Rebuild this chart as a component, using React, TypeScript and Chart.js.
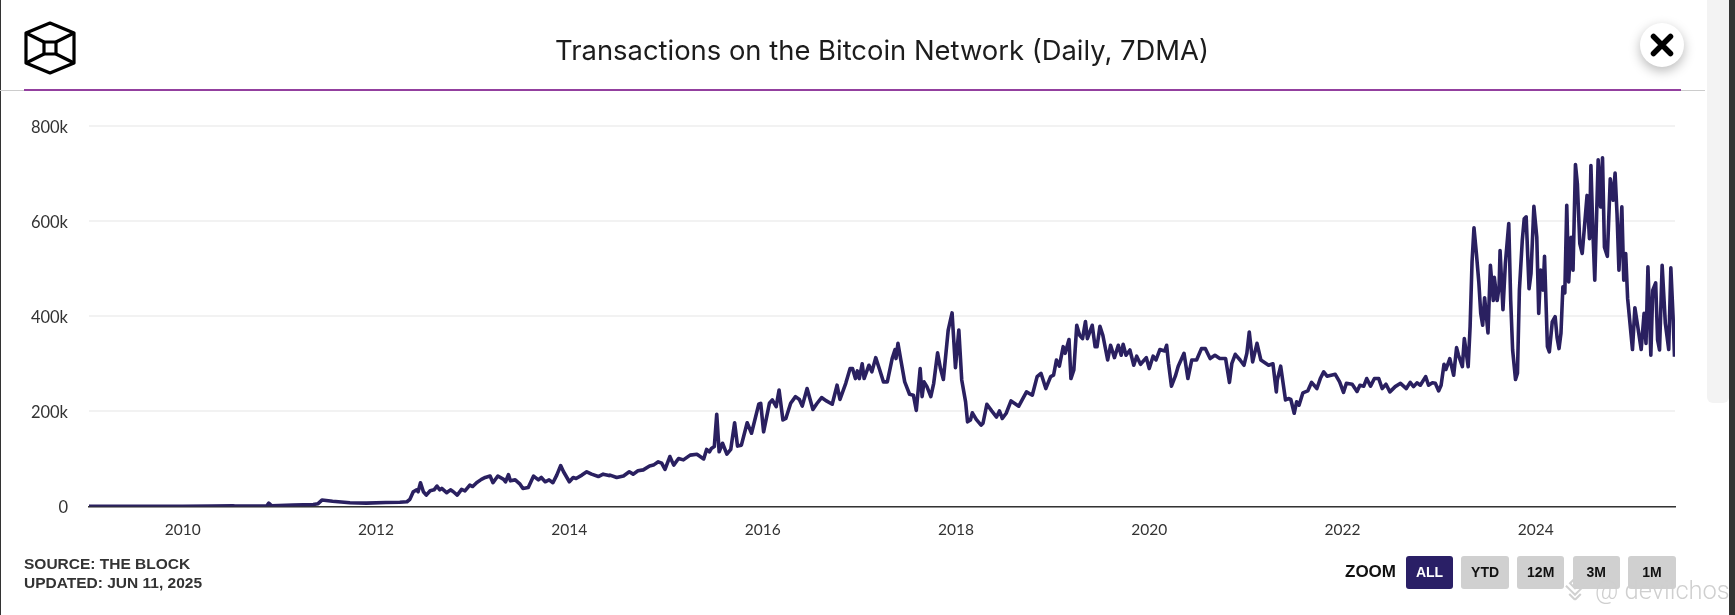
import { useEffect, useRef } from "react";
import Chart from "chart.js/auto";

const title = "Transactions on the Bitcoin Network (Daily, 7DMA)";
const yearTicks = [2010, 2012, 2014, 2016, 2018, 2020, 2022, 2024];
const countTicks = [0, 200, 400, 600, 800];
const zoomButtons = ["ALL", "YTD", "12M", "3M", "1M"];

const years2009 = [
  2009.03, 2009.5, 2010.0, 2010.3, 2010.52, 2010.54, 2010.87, 2010.89, 2010.92, 2011.14,
  2011.35, 2011.4, 2011.44, 2011.55, 2011.73, 2011.9, 2012.1, 2012.246, 2012.32,
];
const tx2009 = [
  0.5, 0.5, 0.5, 0.8, 1.5, 1, 1.5, 7, 1.5, 3,
  4, 6, 13.5, 11, 8, 7, 8.5, 9, 10,
];

const years2012 = [
  2012.35, 2012.385, 2012.42, 2012.435, 2012.46, 2012.49, 2012.52, 2012.56, 2012.6, 2012.63,
  2012.66, 2012.68, 2012.73, 2012.77, 2012.8, 2012.84, 2012.885, 2012.92, 2012.97, 2013.0,
  2013.04, 2013.09, 2013.13, 2013.18, 2013.21, 2013.26, 2013.32, 2013.34, 2013.37, 2013.39,
  2013.44, 2013.49, 2013.52, 2013.575, 2013.63, 2013.68, 2013.71, 2013.75, 2013.79, 2013.83,
  2013.87, 2013.91, 2013.94, 2014.0, 2014.04, 2014.07, 2014.13, 2014.18, 2014.23, 2014.3,
  2014.35, 2014.41,
];
const tx2012 = [
  15, 31, 35, 31, 50, 31, 24, 33, 35, 43,
  35, 38, 29, 35, 31, 24, 36, 33, 45, 42,
  50, 57, 61, 64, 50, 64, 57, 52, 67, 54,
  56, 47, 38, 40, 64, 56, 61, 52, 56, 50,
  66, 86, 73, 52, 61, 59, 66, 73, 68, 63,
  68, 65,
];

const years2014 = [
  2014.42, 2014.49, 2014.56, 2014.62, 2014.66, 2014.71, 2014.765, 2014.83, 2014.87, 2014.92,
  2014.955, 2014.99, 2015.04, 2015.08, 2015.13, 2015.18, 2015.25, 2015.32, 2015.39, 2015.42,
  2015.45, 2015.47, 2015.5, 2015.525, 2015.55, 2015.585, 2015.63, 2015.67, 2015.71, 2015.74,
  2015.78, 2015.84, 2015.885, 2015.94, 2015.96, 2015.98, 2016.01,
];
const tx2014 = [
  66, 61, 64, 73, 68, 75, 77, 85, 87, 94,
  91, 78, 105, 87, 101, 98, 108, 110, 100, 120,
  115, 122, 126, 194, 115, 133, 110, 120, 176, 127,
  129, 176, 154, 199, 215, 217, 157,
];

const years2016 = [
  2016.07, 2016.1, 2016.14, 2016.17, 2016.21, 2016.24, 2016.29, 2016.34, 2016.38, 2016.41,
  2016.46, 2016.52, 2016.56, 2016.61, 2016.66, 2016.72, 2016.77, 2016.8, 2016.86, 2016.905,
  2016.93, 2016.96, 2016.98, 2017.0, 2017.03, 2017.05, 2017.1, 2017.13, 2017.17, 2017.21,
  2017.25, 2017.29, 2017.34, 2017.37, 2017.38, 2017.4, 2017.43, 2017.47, 2017.52, 2017.56,
  2017.59, 2017.63, 2017.65, 2017.67, 2017.7, 2017.74, 2017.77, 2017.81, 2017.84, 2017.87,
  2017.92, 2017.96, 2017.995, 2018.03, 2018.06, 2018.1, 2018.12, 2018.15, 2018.17, 2018.21,
  2018.26, 2018.28, 2018.32, 2018.37, 2018.42, 2018.45, 2018.48, 2018.52, 2018.57, 2018.65,
  2018.73, 2018.79, 2018.84, 2018.88, 2018.93, 2018.98, 2019.01, 2019.04, 2019.07, 2019.11,
  2019.13, 2019.17, 2019.19, 2019.22, 2019.25, 2019.28, 2019.31, 2019.34, 2019.36, 2019.41,
  2019.44, 2019.46, 2019.49, 2019.52, 2019.57, 2019.6, 2019.64, 2019.68, 2019.71, 2019.73,
  2019.76, 2019.8, 2019.84, 2019.87, 2019.91, 2019.97, 2020.0, 2020.04, 2020.07, 2020.11,
  2020.16, 2020.18, 2020.2, 2020.23, 2020.27, 2020.3, 2020.36, 2020.4, 2020.44, 2020.49,
  2020.54, 2020.58, 2020.63, 2020.68, 2020.73,
];
const tx2016 = [
  217, 224, 210, 245, 182, 185, 217, 231, 225, 211,
  248, 204, 216, 229, 222, 215, 255, 225, 259, 290,
  290, 269, 285, 269, 300, 269, 297, 283, 313, 288,
  262, 262, 311, 330, 311, 343, 308, 262, 236, 234,
  202, 290, 231, 262, 252, 231, 259, 323, 290, 267,
  371, 407, 292, 371, 266, 220, 178, 182, 197, 183,
  171, 175, 215, 201, 188, 201, 185, 196, 222, 211,
  241, 234, 273, 280, 248, 273, 276, 308, 295, 336,
  322, 351, 269, 287, 381, 360, 353, 389, 353, 381,
  336, 336, 379, 360, 308, 339, 313, 339, 318, 341,
  318, 329, 297, 316, 299, 313, 290, 316, 308, 330,
  327, 339, 300, 253, 274, 295, 322, 269, 308, 308,
  332, 332, 311, 318, 311,
];

const years2020 = [
  2020.79, 2020.83, 2020.855, 2020.89, 2020.94, 2020.98, 2021.01, 2021.035, 2021.07, 2021.115,
  2021.155, 2021.235, 2021.28, 2021.315, 2021.325, 2021.36, 2021.41, 2021.44, 2021.465, 2021.5,
  2021.525, 2021.55, 2021.59, 2021.64, 2021.68, 2021.735, 2021.77, 2021.805, 2021.84, 2021.925,
  2021.97, 2022.01, 2022.04, 2022.1, 2022.15, 2022.18, 2022.22, 2022.25, 2022.29, 2022.33,
  2022.375, 2022.41, 2022.45, 2022.49, 2022.545, 2022.6, 2022.66, 2022.7, 2022.735, 2022.77,
  2022.805, 2022.86, 2022.89, 2022.93, 2022.96,
];
const tx2020 = [
  311, 261, 301, 320, 308, 297, 322, 367, 304, 343,
  308, 297, 300, 241, 266, 295, 224, 227, 225, 196,
  220, 213, 239, 243, 261, 248, 269, 283, 274, 278,
  262, 240, 259, 257, 242, 255, 253, 269, 253, 269,
  269, 248, 257, 241, 252, 259, 248, 261, 252, 260,
  255, 273, 255, 260, 259,
];

const years2023 = [
  2022.995, 2023.02, 2023.05, 2023.07, 2023.11, 2023.15, 2023.18, 2023.2, 2023.24, 2023.26,
  2023.3, 2023.32, 2023.34, 2023.36, 2023.385, 2023.41, 2023.43, 2023.45, 2023.47, 2023.505,
  2023.53, 2023.56, 2023.57, 2023.6, 2023.62, 2023.63, 2023.66, 2023.685, 2023.72, 2023.74,
  2023.76, 2023.79, 2023.81, 2023.83, 2023.86, 2023.88, 2023.9, 2023.93, 2023.95, 2023.98,
  2024.01, 2024.03, 2024.05, 2024.075, 2024.09, 2024.12, 2024.14, 2024.17, 2024.2, 2024.22,
  2024.24, 2024.26, 2024.28, 2024.3, 2024.32, 2024.34, 2024.365, 2024.385, 2024.41, 2024.43,
  2024.455, 2024.48, 2024.5, 2024.53, 2024.555, 2024.57, 2024.59, 2024.61, 2024.645, 2024.67,
  2024.69, 2024.71, 2024.74, 2024.77, 2024.8, 2024.82, 2024.84, 2024.86, 2024.89, 2024.91,
  2024.93, 2024.95, 2025.0, 2025.025, 2025.055, 2025.09, 2025.12, 2025.14, 2025.16, 2025.19,
  2025.21, 2025.24, 2025.26, 2025.28, 2025.307, 2025.34, 2025.375, 2025.397, 2025.42, 2025.435,
];
const tx2023 = [
  243, 255, 299, 288, 311, 276, 334, 318, 294, 353,
  294, 378, 514, 586, 532, 472, 406, 381, 439, 365,
  507, 433, 482, 433, 462, 538, 414, 511, 595, 433,
  329, 267, 280, 455, 560, 605, 609, 458, 490, 631,
  566, 406, 497, 455, 526, 336, 325, 388, 399, 355,
  332, 364, 462, 449, 633, 472, 566, 497, 719, 678,
  553, 532, 580, 654, 563, 717, 580, 476, 729, 630,
  733, 545, 526, 689, 644, 701, 616, 497, 630, 476,
  532, 437, 330, 418, 378, 330, 406, 343, 504, 318,
  455, 470, 350, 329, 507, 385, 330, 502, 399, 315,
];

const years = [...years2009, ...years2012, ...years2014, ...years2016, ...years2020, ...years2023];
const txThousands = [...tx2009, ...tx2012, ...tx2014, ...tx2016, ...tx2020, ...tx2023];

const box = (left: number, top: number, width: number, height: number) => ({
  position: "absolute" as const,
  left,
  top,
  width,
  height,
});

export default function App() {
  const canvasRef = useRef<HTMLCanvasElement>(null);

  useEffect(() => {
    document.body.style.margin = "0";
    const chart = new Chart(canvasRef.current!, {
      type: "line",
      data: {
        datasets: [
          {
            label: "Transactions",
            data: years.map((x, i) => ({ x, y: txThousands[i] })),
            borderColor: "#2a2060",
            borderWidth: 3.6,
            pointRadius: 0,
            tension: 0,
            borderJoinStyle: "round",
          },
        ],
      },
      options: {
        animation: false,
        responsive: false,
        devicePixelRatio: 1,
        layout: { padding: { top: 0, left: 0, right: 60, bottom: 0 } },
        plugins: {
          legend: { display: false },
          tooltip: { enabled: false },
          title: {
            display: true,
            text: title,
            fullSize: false,
            color: "#1c1c1c",
            font: { family: "Inter", size: 27.4, weight: "normal", lineHeight: 1.2 },
            padding: { top: 35, bottom: 58.1 },
          },
        },
        scales: {
          x: {
            type: "linear",
            min: 2009.03,
            max: 2025.44,
            afterBuildTicks: (scale) => {
              scale.ticks = yearTicks.map((value) => ({ value }));
            },
            afterFit: (scale) => {
              scale.height = 108.5;
            },
            ticks: {
              callback: (v) => String(v),
              color: "#333",
              font: { family: "Lato", size: 15.5 },
              padding: 6,
              maxRotation: 0,
              autoSkip: false,
            },
            grid: { display: false },
            border: { color: "#333", width: 1.5 },
          },
          y: {
            min: 0,
            max: 800,
            afterBuildTicks: (scale) => {
              scale.ticks = countTicks.map((value) => ({ value }));
            },
            afterFit: (scale) => {
              scale.width = 89;
            },
            ticks: {
              callback: (v) => (v === 0 ? "0" : `${v}k`),
              color: "#333",
              font: { family: "Lato", size: 16.5 },
              padding: 21,
              labelOffset: 1.5,
            },
            grid: { color: "#f2f2f2", lineWidth: 2, drawTicks: false },
            border: { display: false },
          },
        },
      },
    });
    return () => chart.destroy();
  }, []);

  return (
    <div style={{ position: "relative", width: 1735, height: 615, overflow: "hidden", background: "#fff" }}>
      {/* page edges of the screenshot */}
      <div style={{ ...box(0, 0, 1, 615), background: "#333" }} />
      <div style={{ ...box(1707, 0, 22, 403), background: "#f3f3f3", borderRadius: "0 0 6px 6px" }} />
      <div style={{ ...box(1729, 0, 6, 615), background: "#333" }} />

      {/* header rule */}
      <div style={{ ...box(0, 90, 1705, 1), background: "#ccc" }} />
      <div style={{ ...box(24, 88.5, 1657, 2), background: "#93409f" }} />

      <canvas ref={canvasRef} width={1735} height={615} style={{ ...box(0, 0, 1735, 615), display: "block" }} />

      {/* logo */}
      <svg style={box(0, 0, 100, 90)} viewBox="0 0 100 90" fill="none" stroke="#000" strokeWidth={3.2} strokeLinejoin="round">
        <path d="M50 23 L74 33 L74 63 L50 73 L26 63 L26 33 Z" />
        <path d="M44 42 L56 42 L56 54 L44 54 Z" />
        <path d="M26 33 L44 42 M74 33 L56 42 M26 63 L44 54 M74 63 L56 54" />
      </svg>

      {/* close button */}
      <div
        style={{
          ...box(1639.5, 23, 44, 44),
          borderRadius: "50%",
          background: "#fff",
          boxShadow: "0 4px 12px rgba(0,0,0,0.28)",
        }}
      />
      <svg style={box(1650, 33, 24, 24)} viewBox="0 0 24 24" stroke="#000" strokeWidth={5.5} strokeLinecap="round">
        <path d="M3.5 3.5 L20.5 20.5 M20.5 3.5 L3.5 20.5" />
      </svg>

      {/* source note */}
      <div
        style={{
          ...box(24, 554, 300, 40),
          font: "bold 15.5px/19px 'Liberation Sans'",
          color: "#333",
          whiteSpace: "pre",
        }}
      >
        {"SOURCE: THE BLOCK\nUPDATED: JUN 11, 2025"}
      </div>

      {/* zoom buttons */}
      <div style={{ ...box(1345, 561, 60, 22), font: "bold 17px/22px 'Liberation Sans'", color: "#111" }}>ZOOM</div>
      {zoomButtons.map((label, i) => (
        <div
          key={label}
          style={{
            ...box(1405.7 + i * 55.6, 556, 47.6, 33),
            borderRadius: 3,
            background: i === 0 ? "#2a1f66" : "#d0d0d0",
            color: i === 0 ? "#fff" : "#111",
            font: "bold 14px/33px 'Liberation Sans'",
            textAlign: "center",
          }}
        >
          {label}
        </div>
      ))}

      {/* watermark */}
      <svg style={box(1561, 575, 28, 28)} viewBox="0 0 34 34" fill="none" stroke="#d0d0d0" strokeWidth={2.5}>
        <path d="M17 4 L23 10 L17 16 L11 10 Z M6 13 L12 19 L17 24 L22 19 L28 13 M17 30 L24 23 M17 30 L10 23" />
      </svg>
      <div style={{ ...box(1595, 573, 132, 34), font: "300 25.5px/34px Roboto", color: "#cfcfcf", whiteSpace: "pre" }}>
        @ devilchos
      </div>
    </div>
  );
}
